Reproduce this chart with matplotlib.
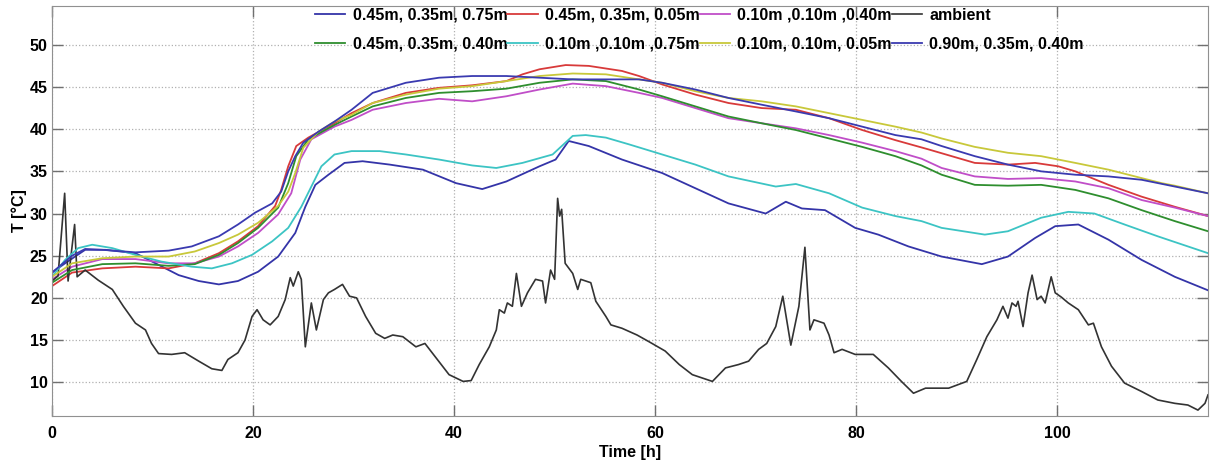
import numpy as np
import matplotlib
matplotlib.use("Agg")
import matplotlib.pyplot as plt

plt.rcParams['font.family'] = ['Liberation Sans', 'DejaVu Sans']
plt.rcParams['font.weight'] = 'bold'

# ambient temperature
t_amb = [0, 0.6, 1.26, 1.6, 2.25, 2.5, 3.3, 4.6, 6, 7.1, 8.3, 9.3, 9.9, 10.6, 11.9, 13.2,
         14.6, 15.9, 16.9, 17.5, 18.5, 19.2, 19.9, 20.4, 21, 21.7, 22.5, 23.2, 23.7, 24,
         24.5, 24.8, 25.2, 25.8, 26.3, 27, 27.5, 28.1, 28.9, 29.6, 30.3, 31.2, 32.2, 33.1,
         33.9, 34.9, 36.2, 37.1, 38.2, 39.5, 40.9, 41.7, 42.5, 43.5, 44.2, 44.5, 45, 45.3,
         45.8, 46.2, 46.7, 47.3, 48.1, 48.8, 49.1, 49.6, 50, 50.3, 50.5, 50.7, 51.05, 51.8,
         52.3, 52.6, 53.6, 54.1, 55.1, 55.6, 56.7, 58.2, 59.4, 61, 62.4, 63.7, 65.7, 67,
         68.3, 69.3, 70.3, 71.1, 72, 72.7, 73.5, 74.3, 74.9, 75.4, 75.8, 76.8, 77.3, 77.8,
         78.6, 79.9, 81.7, 83.2, 84.5, 85.7, 86.9, 88.2, 89.2, 91, 92, 93, 94, 94.6, 95.1,
         95.5, 95.9, 96.1, 96.6, 97.1, 97.5, 98, 98.4, 98.8, 99.4, 99.8, 100.4, 101.1,
         102.1, 103.1, 103.6, 104.4, 105.4, 106.7, 108.4, 110, 111.7, 113, 114, 114.7, 115]
T_amb = [22.0, 22.6, 32.4, 22.0, 28.7, 22.5, 23.3, 22.1, 21.0, 19.0, 17.0, 16.2, 14.6, 13.4,
         13.3, 13.5, 12.5, 11.6, 11.4, 12.7, 13.5, 15.0, 17.8, 18.6, 17.4, 16.8, 17.8, 19.8,
         22.4, 21.4, 23.1, 22.2, 14.2, 19.4, 16.2, 19.8, 20.6, 21.0, 21.6, 20.2, 20.0, 17.8,
         15.8, 15.2, 15.6, 15.4, 14.2, 14.6, 12.9, 10.9, 10.1, 10.2, 12.1, 14.2, 16.2, 18.6,
         18.2, 19.4, 19.0, 22.9, 19.0, 20.6, 22.2, 22.0, 19.4, 23.3, 22.2, 31.8, 29.7, 30.5,
         24.1, 22.9, 21.0, 22.2, 21.8, 19.6, 17.8, 16.8, 16.4, 15.6, 14.8, 13.7, 12.1, 10.9,
         10.1, 11.7, 12.1, 12.5, 13.9, 14.6, 16.6, 20.2, 14.4, 19.0, 26.0, 16.2, 17.4, 17.0,
         15.6, 13.5, 13.9, 13.3, 13.3, 11.7, 10.1, 8.7, 9.3, 9.3, 9.3, 10.1, 12.7, 15.4,
         17.4, 19.0, 17.6, 19.4, 19.0, 19.6, 16.6, 20.6, 22.7, 19.8, 20.2, 19.4, 22.5, 20.6,
         20.1, 19.4, 18.6, 16.8, 17.0, 14.2, 11.9, 9.9, 8.9, 7.9, 7.5, 7.3, 6.7, 7.5, 8.5]

# 0.45m, 0.35m, 0.75m (lower blue)
t_b1 = [0, 1.3, 3.3, 5.3, 8.3, 10.3, 12.6, 14.6, 16.6, 18.5, 20.5, 22.5, 24.2, 25.2, 26.2,
        27.5, 29.1, 30.9, 33.6, 36.9, 40.2, 42.8, 45.2, 48.5, 50.1, 51.4, 53.4, 56.7, 60.7,
        64, 67.3, 71, 73, 74.6, 76.9, 79.9, 82.2, 85.2, 88.5, 92.5, 95.1, 97.8, 99.8, 102.1,
        105.1, 108.4, 111.7, 115]
T_b1 = [23.0, 24.1, 25.7, 25.7, 25.3, 24.1, 22.7, 22.0, 21.6, 22.0, 23.1, 24.9, 27.7, 30.8,
        33.4, 34.6, 36.0, 36.2, 35.8, 35.2, 33.6, 32.9, 33.8, 35.6, 36.4, 38.6, 38.0, 36.4,
        34.8, 33.0, 31.2, 30.0, 31.4, 30.6, 30.4, 28.3, 27.5, 26.1, 24.9, 24.0, 24.9, 27.1,
        28.5, 28.7, 26.9, 24.5, 22.5, 20.9]

# 0.45m, 0.35m, 0.05m (red)
t_r = [0, 2, 5, 8.3, 11.6, 14.2, 16.6, 18.5, 20.5, 22.2, 22.8, 23.5, 24.3, 25.5, 28.1, 29.8,
       31.9, 35.2, 38.5, 41.8, 45.2, 46.8, 48.5, 51.1, 53.4, 56.7, 58.4, 60.7, 64, 67.3,
       70.6, 74, 77.3, 80.6, 83.9, 87.2, 91.8, 95.1, 97.8, 100.1, 101.8, 105.1, 108.4,
       111.7, 115]
T_r = [21.4, 23.0, 23.5, 23.7, 23.5, 24.1, 25.3, 26.7, 28.5, 30.9, 32.8, 35.6, 38.0, 39.0,
       40.7, 41.9, 43.1, 44.3, 44.9, 45.2, 45.7, 46.5, 47.1, 47.6, 47.5, 46.9, 46.3, 45.3,
       44.1, 43.1, 42.5, 42.3, 41.3, 39.9, 38.7, 37.6, 36.0, 35.8, 36.0, 35.6, 35.0, 33.4,
       32.0, 30.8, 29.7]

# 0.10m, 0.10m, 0.40m (magenta)
t_m = [0, 2, 5, 8.3, 11.6, 14.2, 16.6, 18.5, 20.5, 22.5, 23.8, 24.7, 25.8, 28.1, 29.8,
       31.9, 35.2, 38.5, 41.8, 45.2, 48.5, 51.8, 55.1, 58.4, 60.7, 64, 67.3, 70.6, 74,
       77.3, 80.6, 83.9, 86.5, 88.5, 91.8, 95.1, 98.4, 101.8, 105.1, 108.4, 111.7, 115]
T_m = [22.2, 23.7, 24.6, 24.6, 24.1, 24.1, 24.9, 26.1, 27.7, 29.9, 32.4, 36.4, 38.8, 40.3,
       41.1, 42.3, 43.1, 43.6, 43.3, 43.9, 44.7, 45.4, 45.1, 44.3, 43.7, 42.5, 41.3, 40.7,
       40.1, 39.3, 38.4, 37.4, 36.5, 35.4, 34.4, 34.1, 34.2, 33.8, 33.0, 31.6, 30.7, 29.7]

# 0.45m, 0.35m, 0.40m (green)
t_g = [0, 2, 5, 8.3, 11.6, 14.2, 16.6, 18.5, 20.5, 22.5, 23.5, 24.3, 25.5, 28.1, 29.8,
       31.9, 35.2, 38.5, 41.8, 45.2, 48.5, 51.8, 55.1, 58.4, 60.7, 64, 67.3, 70.6, 74,
       77.3, 80.6, 83.9, 86.5, 88.5, 91.8, 95.1, 98.4, 101.8, 105.1, 108.4, 111.7, 115]
T_g = [21.8, 23.3, 24.0, 24.1, 23.8, 24.0, 25.1, 26.5, 28.3, 30.7, 33.6, 36.8, 38.8, 40.5,
       41.5, 42.7, 43.7, 44.3, 44.5, 44.8, 45.5, 45.9, 45.7, 44.7, 43.9, 42.7, 41.5, 40.7,
       39.9, 38.9, 37.9, 36.8, 35.7, 34.6, 33.4, 33.3, 33.4, 32.8, 31.8, 30.4, 29.1, 27.9]

# 0.10m, 0.10m, 0.75m (cyan)
t_c = [0, 1.3, 2.6, 4, 6, 8.3, 10.9, 13.9, 15.9, 17.9, 19.9, 21.9, 23.5, 24.8, 25.8, 26.8,
       28.1, 29.8, 32.6, 35.2, 38.5, 41.8, 44.2, 46.8, 49.8, 51.8, 53.1, 55.1, 57.4, 60.7,
       64, 67.3, 72, 74, 77.3, 80.6, 83.9, 86.5, 88.5, 92.8, 95.1, 98.4, 101.1, 103.7,
       106.7, 110, 115]
T_c = [22.5, 24.5, 25.9, 26.3, 25.9, 25.1, 24.3, 23.7, 23.5, 24.1, 25.1, 26.7, 28.3, 30.8,
       33.2, 35.6, 37.0, 37.4, 37.4, 37.0, 36.4, 35.7, 35.4, 36.0, 37.0, 39.2, 39.3, 39.0,
       38.2, 37.0, 35.8, 34.4, 33.2, 33.5, 32.4, 30.7, 29.7, 29.1, 28.3, 27.5, 27.9, 29.5,
       30.2, 30.0, 28.7, 27.3, 25.3]

# 0.10m, 0.10m, 0.05m (yellow)
t_y = [0, 2, 5, 8.3, 11.6, 14.2, 16.6, 18.5, 20.5, 22.5, 23.5, 24.2, 25, 26.5, 28.1, 29.8,
       31.9, 35.2, 38.5, 41.8, 45.2, 48.5, 51.8, 55.1, 58.4, 60.7, 64, 67.3, 70.6, 74,
       77.3, 80.6, 83.9, 86.5, 88.5, 91.8, 95.1, 98.4, 101.8, 105.1, 108.4, 110.4, 111.7, 115]
T_y = [22.5, 24.1, 24.7, 24.9, 24.9, 25.5, 26.5, 27.5, 28.9, 30.9, 32.6, 34.8, 37.8, 39.7,
       40.9, 41.7, 43.1, 44.1, 44.8, 45.1, 45.7, 46.3, 46.6, 46.5, 45.9, 45.5, 44.5, 43.7,
       43.3, 42.7, 41.9, 41.1, 40.3, 39.6, 38.9, 37.9, 37.2, 36.8, 36.0, 35.2, 34.2, 33.6,
       33.3, 32.4]

# 0.90m, 0.35m, 0.40m (upper blue)
t_b2 = [0, 2, 3.3, 5, 8.3, 11.6, 13.9, 16.6, 18.5, 20.2, 21.9, 22.8, 23.5, 24.2, 25, 26.5,
        28.1, 29.8, 31.9, 35.2, 38.5, 41.8, 45.2, 48.5, 51.8, 55.1, 58.4, 60.7, 64, 67.3,
        70.6, 74, 77.3, 80.6, 83.9, 86.5, 88.5, 91.8, 95.1, 98.4, 101.8, 105.1, 108.4,
        111.7, 115]
T_b2 = [23.0, 25.0, 25.8, 25.7, 25.4, 25.6, 26.1, 27.3, 28.7, 30.1, 31.2, 32.6, 35.0, 36.8,
        38.4, 39.7, 40.9, 42.3, 44.3, 45.5, 46.1, 46.3, 46.3, 46.1, 45.9, 45.9, 45.9, 45.5,
        44.7, 43.7, 42.9, 42.1, 41.3, 40.3, 39.3, 38.8, 38.0, 36.8, 35.8, 35.0, 34.6, 34.4,
        34.0, 33.2, 32.4]

fs = 11.5
fig = plt.figure(figsize=(12.12, 4.63), dpi=100)
ax = fig.add_axes([52 / 1212, 1 - 416 / 463, 1156 / 1212, 410 / 463])

lw = 1.3
h_b1, = ax.plot(t_b1, T_b1, color='#3434a8', lw=lw, label='0.45m, 0.35m, 0.75m')
h_r, = ax.plot(t_r, T_r, color='#d83a3a', lw=lw, label='0.45m, 0.35m, 0.05m')
h_m, = ax.plot(t_m, T_m, color='#c04ec8', lw=lw, label='0.10m ,0.10m ,0.40m')
h_a, = ax.plot(t_amb, T_amb, color='#333333', lw=1.2, label='ambient')
h_g, = ax.plot(t_g, T_g, color='#2e8e2e', lw=lw, label='0.45m, 0.35m, 0.40m')
h_c, = ax.plot(t_c, T_c, color='#3cc4c4', lw=lw, label='0.10m ,0.10m ,0.75m')
h_y, = ax.plot(t_y, T_y, color='#c8c83a', lw=lw, label='0.10m, 0.10m, 0.05m')
h_b2, = ax.plot(t_b2, T_b2, color='#3a3ab0', lw=lw, label='0.90m, 0.35m, 0.40m')

ax.set_xlim(0, 115)
ax.set_ylim(6, 54.6)
ax.set_xticks([0, 20, 40, 60, 80, 100])
ax.set_yticks([10, 15, 20, 25, 30, 35, 40, 45, 50])
ax.grid(True, linestyle=':', color='#b0b0b0', linewidth=0.9)
ax.tick_params(direction='in', length=8, top=True, right=True, labelsize=fs,
               color='#707070', width=1)
ax.tick_params(axis='x', pad=7)
ax.tick_params(axis='y', pad=3)
for s in ax.spines.values():
    s.set_color('#909090')
ax.set_xlabel('Time [h]', fontsize=fs, fontweight='bold', labelpad=3)
ax.set_ylabel('T [°C]', fontsize=fs, fontweight='bold', labelpad=2)

# matlab fills rows, matplotlib fills columns
handles = [h_b1, h_g, h_r, h_c, h_m, h_y, h_a, h_b2]
ax.legend(handles=handles, labels=[h.get_label() for h in handles], ncol=4,
          loc='upper left', bbox_to_anchor=(315 / 1212, 1 - 8 / 463),
          bbox_transform=fig.transFigure, frameon=False, fontsize=fs,
          handlelength=1.9, handletextpad=0.45, columnspacing=0.0,
          labelspacing=0.85, borderpad=0, borderaxespad=0)

fig.savefig('out.png', dpi=100)
